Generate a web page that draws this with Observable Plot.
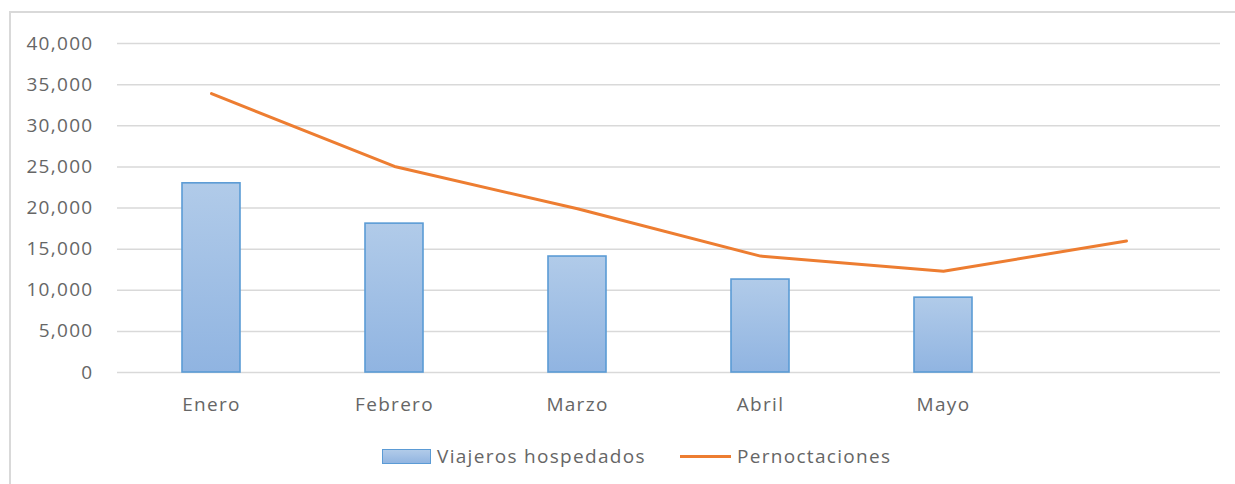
<!DOCTYPE html>
<html>
<head>
<meta charset="utf-8">
<script src="https://cdn.jsdelivr.net/npm/d3@7"></script>
<script src="https://cdn.jsdelivr.net/npm/@observablehq/plot@0.6"></script>
<style>
  body { margin: 0; background: #fff; width: 1235px; height: 484px; overflow: hidden; position: relative; font-family: "Open Sans", sans-serif; }
  #frame { position: absolute; left: 9px; top: 11px; width: 1300px; height: 600px; border-left: 2px solid #d9d9d9; border-top: 2px solid #d9d9d9; }
  #chart { position: absolute; left: 0; top: 0; }
  .lg { position: absolute; color: #666666; font-size: 19px; letter-spacing: 1.3px; line-height: 1; }
  .sw-bar { position: absolute; left: 382px; top: 449px; width: 47px; height: 13px; border: 1.5px solid #5b9bd5; background: linear-gradient(#b1cbe9, #92b5e1); }
  .sw-line { position: absolute; left: 680px; top: 455px; width: 51px; height: 3px; background: #ed7d31; }
</style>
</head>
<body>
<div id="frame"></div>
<div id="chart"></div>
<div class="sw-bar"></div><span class="lg" style="left:437px; top:447px">Viajeros hospedados</span>
<div class="sw-line"></div><span class="lg" style="left:737px; top:447px">Pernoctaciones</span>
<script>
const months = ["Enero", "Febrero", "Marzo", "Abril", "Mayo", ""];
const viajeros = [23000, 18100, 14100, 11300, 9100, null];
const pernoctaciones = [33900, 25050, 19900, 14150, 12300, 16000];
const yTicks = [0, 5000, 10000, 15000, 20000, 25000, 30000, 35000, 40000];

const barData = months.map((m, i) => ({month: m, value: viajeros[i]})).filter(d => d.value != null);
const lineData = months.map((m, i) => ({month: m, value: pernoctaciones[i]}));

const defs = () => {
  const g = d3.create("svg:defs");
  const lg = g.append("linearGradient").attr("id", "barGrad").attr("x1", 0).attr("y1", 0).attr("x2", 0).attr("y2", 1);
  lg.append("stop").attr("offset", "0%").attr("stop-color", "#b1cbe9");
  lg.append("stop").attr("offset", "100%").attr("stop-color", "#90b4e1");
  return g.node();
};

const chart = Plot.plot({
  width: 1235,
  height: 420,
  marginTop: 43,
  marginBottom: 48,
  marginLeft: 117,
  marginRight: 15,
  style: { fontFamily: "Open Sans, sans-serif", fontSize: "19px", color: "#666666", background: "transparent", letterSpacing: "1.3px" },
  x: { domain: months, paddingInner: 0.685, paddingOuter: 0.3425, label: null },
  y: { domain: [0, 40000], label: null },
  marks: [
    defs,
    Plot.gridY(yTicks, { stroke: "#d9d9d9", strokeOpacity: 1, strokeWidth: 1.5 }),
    Plot.axisY(yTicks, { tickSize: 0, tickPadding: 24, tickFormat: d3.format(","), fill: "#666666", fontSize: 19 }),
    Plot.axisX({ tickSize: 0, tickPadding: 25, fill: "#666666", fontSize: 19 }),
    Plot.barY(barData, { x: "month", y: "value", fill: "url(#barGrad)", stroke: "#5b9bd5", strokeWidth: 1.6 }),
    Plot.line(lineData, { x: "month", y: "value", stroke: "#ed7d31", strokeWidth: 3 })
  ]
});
document.getElementById("chart").appendChild(chart);
</script>
</body>
</html>
